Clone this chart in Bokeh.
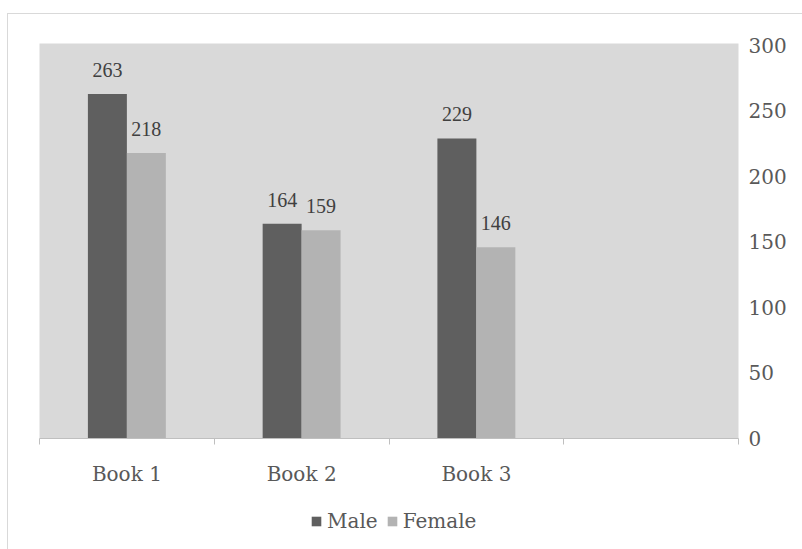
from bokeh.plotting import figure
from bokeh.layouts import column
from bokeh.models import Range1d, LinearAxis, FixedTicker, Legend, LegendItem, LabelSet, ColumnDataSource
from bokeh.embed import file_html
from bokeh.resources import INLINE
import numpy as np

books = ["Book 1", "Book 2", "Book 3"]
male = [263, 164, 229]
female = [218, 159, 146]
series = ["Male", "Female"]
n_slots = 4
y_ticks = [0, 50, 100, 150, 200, 250, 300]

FONT = "DejaVu Serif"
FS = "20px"
TXT = "#595959"
C_M = "#5f5f5f"
C_F = "#b3b3b3"

centers = np.arange(len(books)) + 0.5
bw = 0.223
src_m = ColumnDataSource(dict(x=centers - bw / 2, y=male, t=[str(v) for v in male]))
src_f = ColumnDataSource(dict(x=centers + bw / 2, y=female, t=[str(v) for v in female]))

p = figure(frame_width=699, frame_height=395, x_range=Range1d(0, n_slots), y_range=Range1d(0, 301.5),
           output_backend="svg", toolbar_location=None, y_axis_location="right",
           x_axis_location=None, min_border_left=31, min_border_top=29,
           min_border_right=65, min_border_bottom=62)
p.background_fill_color = "#d9d9d9"
p.border_fill_color = "white"
p.outline_line_color = None
p.xgrid.visible = False
p.ygrid.visible = False

p.vbar(x="x", top="y", width=bw, source=src_m, fill_color=C_M, line_color=None)
p.vbar(x="x", top="y", width=bw, source=src_f, fill_color=C_F, line_color=None)

for s in (src_m, src_f):
    p.add_layout(LabelSet(x="x", y="y", text="t", source=s, y_offset=17, text_align="center",
                          text_baseline="bottom", text_font=FONT, text_font_size=FS,
                          text_color="#404040"))

ya = p.yaxis[0]
ya.ticker = FixedTicker(ticks=y_ticks)
ya.axis_line_color = None
ya.major_tick_line_color = None
ya.minor_tick_line_color = None
ya.major_tick_out = 0
ya.major_tick_in = 0
ya.major_label_standoff = 10
ya.major_label_text_font = FONT
ya.major_label_text_font_size = FS
ya.major_label_text_color = TXT

tick_axis = LinearAxis(ticker=FixedTicker(ticks=list(range(n_slots + 1))),
                       major_label_text_font_size="1px", major_label_text_alpha=0,
                       major_label_standoff=0, major_tick_out=6, major_tick_in=0,
                       minor_tick_line_color=None, axis_line_color="#bfbfbf",
                       major_tick_line_color="#bfbfbf")
p.add_layout(tick_axis, "below")

label_axis = LinearAxis(ticker=FixedTicker(ticks=list(centers)),
                        major_label_overrides={float(c): b for c, b in zip(centers, books)},
                        axis_line_color=None, major_tick_line_color=None,
                        major_tick_out=0, major_tick_in=0,
                        minor_tick_line_color=None, major_label_standoff=17,
                        major_label_text_font=FONT, major_label_text_font_size=FS,
                        major_label_text_color=TXT)
p.add_layout(label_axis, "below")

# legend strip (dummy zero-height renderers; only their legend swatches show)
lg = figure(width=795, height=50, x_range=Range1d(0, 1), y_range=Range1d(0, 1),
            output_backend="svg", toolbar_location=None, x_axis_location=None,
            y_axis_location=None, min_border=0)
lg.outline_line_color = None
lg.xgrid.visible = False
lg.ygrid.visible = False
lg.background_fill_color = "white"
lg.border_fill_color = "white"
r1 = lg.vbar(x=[0.5], top=[0], bottom=[0], width=0, fill_color=C_M, line_color=None)
r2 = lg.vbar(x=[0.5], top=[0], bottom=[0], width=0, fill_color=C_F, line_color=None)
legend = Legend(items=[LegendItem(label=series[0], renderers=[r1]),
                       LegendItem(label=series[1], renderers=[r2])],
                orientation="horizontal", location=(271, 17), glyph_width=12, glyph_height=12,
                label_height=24, label_text_font=FONT, label_text_font_size=FS, label_text_color=TXT,
                border_line_alpha=0, background_fill_alpha=0, spacing=8, label_standoff=5,
                margin=0, padding=0)
lg.add_layout(legend)

layout = column(p, lg, spacing=0,
                styles={"margin-left": "7px", "margin-top": "13px",
                        "border-top": "1px solid #d9d9d9", "border-left": "1px solid #d9d9d9"})

open("out.html", "w").write(file_html(layout, INLINE))
